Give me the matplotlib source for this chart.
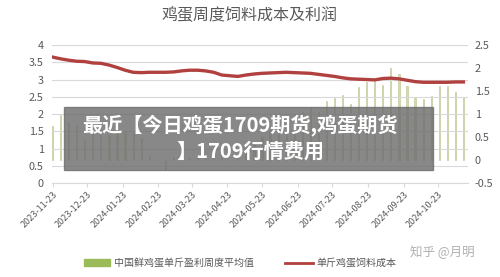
import matplotlib
matplotlib.use('Agg')
import matplotlib.pyplot as plt
import matplotlib.dates as mdates
import numpy as np
import pandas as pd

plt.rcParams['font.family'] = ['Noto Sans CJK SC', 'DejaVu Sans']

# 每周数据（从 2023-11-23 起）
weeks = pd.date_range('2023-11-23', periods=52, freq='7D')
profit = [0.75, 0.98, 0.83, 0.77, 0.44, 0.66, 0.55, 0.55, 0.66, 0.61,
          0.59, 0.48, 0.11, 0.02, -0.22, 0.06, 0.15, 0.05, 0.07, 0.05,
          0.08, 0.12, 0.00, 0.10, 0.20, 0.35, 0.50, 0.65, 0.80, 0.90,
          1.00, 1.05, 1.15, 1.05, 1.29, 1.35, 1.42, 1.21, 1.58, 1.69,
          1.71, 1.64, 2.00, 1.86, 1.60, 1.34, 1.32, 1.40, 1.62, 1.60,
          1.47, 1.36]
feed_cost = [3.65, 3.60, 3.56, 3.53, 3.52, 3.48, 3.47, 3.42, 3.35, 3.27,
             3.21, 3.20, 3.21, 3.21, 3.21, 3.22, 3.25, 3.27, 3.27, 3.25,
             3.21, 3.13, 3.11, 3.09, 3.13, 3.16, 3.18, 3.19, 3.20, 3.21,
             3.20, 3.19, 3.18, 3.15, 3.12, 3.09, 3.05, 3.02, 3.01, 3.00,
             2.99, 3.03, 3.04, 3.02, 2.98, 2.94, 2.92, 2.92, 2.92, 2.92,
             2.93, 2.93]
tick_dates = pd.date_range('2023-11-01', periods=12, freq='MS') + pd.Timedelta(days=22)
title = '鸡蛋周度饲料成本及利润'
bar_label = '中国鲜鸡蛋单斤盈利周度平均值'
line_label = '单斤鸡蛋饲料成本'
overlay_lines = ['最近【今日鸡蛋1709期货,鸡蛋期货', '】1709行情费用']

grey = '#595959'
fig = plt.figure(figsize=(5, 2.77), dpi=100)
ax = fig.add_axes([0.104, 0.339, 0.832, 0.4985])
ax2 = ax.twinx()

ax2.bar(weeks, profit, width=1.0, color='#d3d9b0', edgecolor='#bcc38f',
        linewidth=0.4, label=bar_label)
ax.plot(weeks, feed_cost, color='#b0413e', lw=2.4, label=line_label)
ax.set_zorder(ax2.get_zorder() + 1)
ax.patch.set_visible(False)

ax.set_ylim(0, 4)
ax.set_yticks(np.arange(0, 4.01, 0.5))
ax.set_yticklabels(['0', '0.5', '1', '1.5', '2', '2.5', '3', '3.5', '4'])
ax2.set_ylim(-0.5, 2.5)
ax2.set_yticks(np.arange(-0.5, 2.51, 0.5))
ax2.set_yticklabels(['-0.5', '0', '0.5', '1', '1.5', '2', '2.5'])
ax.set_xlim(weeks[0] - pd.Timedelta(days=0.5), weeks[-1] + pd.Timedelta(days=4))
ax.set_xticks(tick_dates)
ax.xaxis.set_major_formatter(mdates.DateFormatter('%Y-%m-%d'))
plt.setp(ax.get_xticklabels(), rotation=45, ha='right', rotation_mode='anchor')

ax.grid(axis='y', color='#d9d9d9', lw=0.8)
ax.set_axisbelow(True)
for a in (ax, ax2):
    for s in ('top', 'left', 'right', 'bottom'):
        a.spines[s].set_visible(False)
ax.spines['bottom'].set_visible(True)
ax.spines['bottom'].set_color('#d9d9d9')
ax.tick_params(axis='y', length=0, labelsize=7.8, labelcolor=grey, pad=6)
ax2.tick_params(axis='y', length=0, labelsize=7.8, labelcolor=grey, pad=5)
ax.tick_params(axis='x', length=3, color='#d9d9d9', labelsize=6.5, labelcolor=grey, pad=2)

fig.text(0.5, 0.945, title, ha='center', va='center', fontsize=11.5, color=grey)

# 图例
fig.patches.append(plt.Rectangle((0.168, 0.04), 0.052, 0.025, transform=fig.transFigure,
                                 color='#9bbb59'))
fig.text(0.228, 0.052, bar_label, ha='left', va='center', fontsize=7.2, color=grey)
fig.lines.append(plt.Line2D([0.57, 0.626], [0.052, 0.052], transform=fig.transFigure,
                            color='#b0413e', lw=2))
fig.text(0.632, 0.052, line_label, ha='left', va='center', fontsize=7.2, color=grey)
fig.text(0.82, 0.09, '知乎 @月明', ha='left', va='center', fontsize=9, color='#b0b0b0')

# 覆盖的标题框
fig.patches.append(plt.Rectangle((0.128, 0.386), 0.738, 0.228, transform=fig.transFigure,
                                 color='#6e6e6e', alpha=0.82, zorder=10))
fig.text(0.48, 0.548, overlay_lines[0], ha='center', va='center', fontsize=14.5,
         color='white', fontweight='bold', zorder=11)
fig.text(0.5, 0.455, overlay_lines[1], ha='center', va='center', fontsize=14.5,
         color='white', fontweight='bold', zorder=11)

fig.savefig('out.png', dpi=100)
